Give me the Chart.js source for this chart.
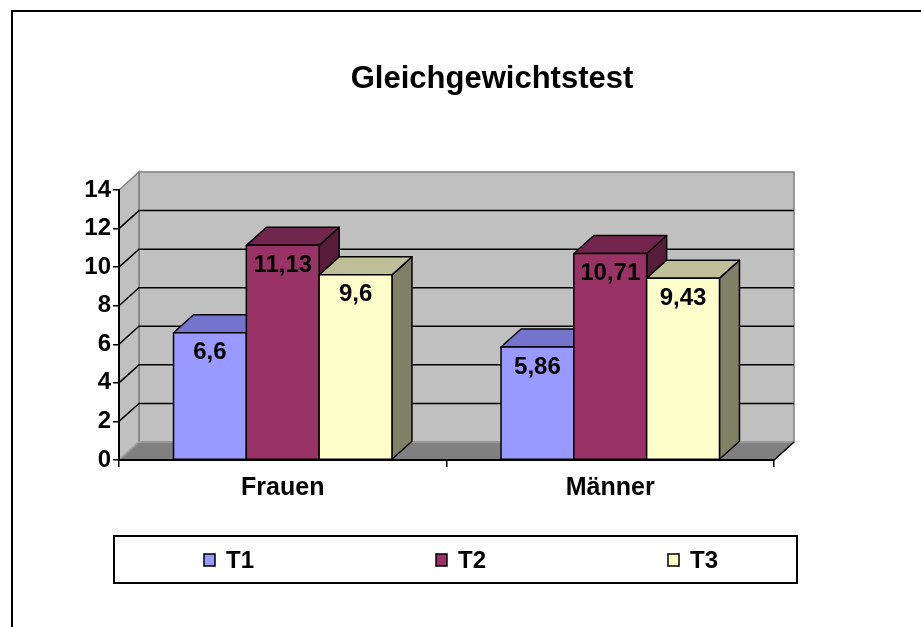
<!DOCTYPE html>
<html>
<head>
<meta charset="utf-8">
<script src="https://cdn.jsdelivr.net/npm/chart.js@4.4.1/dist/chart.umd.min.js"></script>
<style>
  body { margin: 0; background: #fff; }
  #wrap { width: 921px; height: 627px; }
</style>
</head>
<body>
<div id="wrap"><canvas id="chart" width="921" height="627"></canvas></div>
<script>
// chart data
var categories = ['Frauen', 'Männer'];
var seriesNames = ['T1', 'T2', 'T3'];
var t1Values = [6.6, 5.86];
var t2Values = [11.13, 10.71];
var t3Values = [9.6, 9.43];
var yTicks = [0, 2, 4, 6, 8, 10, 12, 14];
var chartTitle = 'Gleichgewichtstest';

// colours per series: front, top, side
var faceColors = [
    { front: '#9999ff', top: '#7474cc', side: '#5c5ca3' },
    { front: '#993366', top: '#73264d', side: '#561c3a' },
    { front: '#ffffcc', top: '#bfbf99', side: '#808066' }
];

var FONT = '"Liberation Sans", Arial, sans-serif';
var DX = 20, DY = -18; // 3d depth offset

function fmt(v) {
    return String(v).replace('.', ',');
}

// walls + floor, drawn before the scales
var wallsPlugin = {
    id: 'walls',
    beforeDraw: function(chart) {
        var ctx = chart.ctx;
        var area = chart.chartArea;
        var y = chart.scales.y;
        var l = area.left, r = area.right, t = area.top, b = area.bottom;

        ctx.save();
        // outer frame
        ctx.strokeStyle = '#000';
        ctx.lineWidth = 2;
        ctx.strokeRect(12, 11, 1000, 1000);

        // back wall
        ctx.fillStyle = '#c0c0c0';
        ctx.fillRect(l + DX, t + DY, r - l, b - t);
        ctx.strokeStyle = '#808080';
        ctx.lineWidth = 1.5;
        ctx.strokeRect(l + DX, t + DY, r - l, b - t);

        // left wall
        ctx.beginPath();
        ctx.moveTo(l, b);
        ctx.lineTo(l + DX, b + DY);
        ctx.lineTo(l + DX, t + DY);
        ctx.lineTo(l, t);
        ctx.closePath();
        ctx.fillStyle = '#c0c0c0';
        ctx.fill();
        ctx.strokeStyle = '#808080';
        ctx.stroke();

        // floor
        ctx.beginPath();
        ctx.moveTo(l, b);
        ctx.lineTo(r, b);
        ctx.lineTo(r + DX, b + DY);
        ctx.lineTo(l + DX, b + DY);
        ctx.closePath();
        ctx.fillStyle = '#808080';
        ctx.fill();
        ctx.strokeStyle = '#a0a0a0';
        ctx.stroke();
        ctx.beginPath();
        ctx.moveTo(r, b);
        ctx.lineTo(r + DX, b + DY);
        ctx.strokeStyle = '#000';
        ctx.stroke();

        // gridlines on back and left wall
        ctx.strokeStyle = '#000';
        ctx.lineWidth = 1.5;
        yTicks.forEach(function(v) {
            if (v === 0 || v === yTicks[yTicks.length - 1]) return;
            var py = y.getPixelForValue(v);
            ctx.beginPath();
            ctx.moveTo(l, py);
            ctx.lineTo(l + DX, py + DY);
            ctx.lineTo(r + DX, py + DY);
            ctx.stroke();
        });
        ctx.restore();
    }
};

// 3d bars, drawn over the plain bars in the right order
var barsPlugin = {
    id: 'bars3d',
    afterDatasetsDraw: function(chart) {
        var ctx = chart.ctx;
        ctx.save();
        ctx.lineWidth = 1.5;
        ctx.strokeStyle = '#000';
        ctx.lineJoin = 'round';
        for (var c = 0; c < categories.length; c++) {
            for (var d = 0; d < chart.data.datasets.length; d++) {
                var bar = chart.getDatasetMeta(d).data[c];
                var p = bar.getProps(['x', 'y', 'base', 'width'], true);
                var left = p.x - p.width / 2, right = p.x + p.width / 2;
                var col = faceColors[d];

                // side
                ctx.beginPath();
                ctx.moveTo(right, p.y);
                ctx.lineTo(right + DX, p.y + DY);
                ctx.lineTo(right + DX, p.base + DY);
                ctx.lineTo(right, p.base);
                ctx.closePath();
                ctx.fillStyle = col.side;
                ctx.fill();
                ctx.stroke();

                // top
                ctx.beginPath();
                ctx.moveTo(left, p.y);
                ctx.lineTo(right, p.y);
                ctx.lineTo(right + DX, p.y + DY);
                ctx.lineTo(left + DX, p.y + DY);
                ctx.closePath();
                ctx.fillStyle = col.top;
                ctx.fill();
                ctx.stroke();

                // front
                ctx.fillStyle = col.front;
                ctx.fillRect(left, p.y, p.width, p.base - p.y);
                ctx.strokeRect(left, p.y, p.width, p.base - p.y);
            }
        }

        // value labels
        ctx.fillStyle = '#000';
        ctx.font = 'bold 24px ' + FONT;
        ctx.textAlign = 'center';
        ctx.textBaseline = 'middle';
        chart.data.datasets.forEach(function(ds, d) {
            chart.getDatasetMeta(d).data.forEach(function(bar, i) {
                ctx.fillText(fmt(ds.data[i]), bar.x, bar.y + 20);
            });
        });
        ctx.restore();
    }
};

// title and framed legend
var textPlugin = {
    id: 'titleLegend',
    afterDraw: function(chart) {
        var ctx = chart.ctx;
        ctx.save();
        ctx.fillStyle = '#000';
        ctx.font = 'bold 31px ' + FONT;
        ctx.textAlign = 'center';
        ctx.textBaseline = 'alphabetic';
        ctx.fillText(chartTitle, 492, 88);

        // legend box
        ctx.strokeStyle = '#000';
        ctx.lineWidth = 2;
        ctx.strokeRect(114, 536, 683, 47);

        var itemX = [204, 436, 668];
        ctx.font = 'bold 24px ' + FONT;
        ctx.textAlign = 'left';
        seriesNames.forEach(function(name, i) {
            ctx.fillStyle = faceColors[i].front;
            ctx.fillRect(itemX[i], 554, 11, 12);
            ctx.lineWidth = 1.5;
            ctx.strokeRect(itemX[i], 554, 11, 12);
            ctx.fillStyle = '#000';
            ctx.fillText(name, itemX[i] + 22, 568);
        });
        ctx.restore();
    }
};

var ctx = document.getElementById('chart').getContext('2d');
var myChart = new Chart(ctx, {
    type: 'bar',
    data: {
        labels: categories,
        datasets: [
            { label: seriesNames[0], data: t1Values, backgroundColor: faceColors[0].front },
            { label: seriesNames[1], data: t2Values, backgroundColor: faceColors[1].front },
            { label: seriesNames[2], data: t3Values, backgroundColor: faceColors[2].front }
        ]
    },
    options: {
        responsive: false,
        animation: false,
        categoryPercentage: 0.667,
        barPercentage: 1,
        borderColor: '#000',
        borderWidth: 1.5,
        layout: {
            padding: { left: 73, right: 147, top: 190, bottom: 127 }
        },
        scales: {
            x: {
                afterFit: function(s) { s.height = 40; },
                grid: {
                    offset: true,
                    drawOnChartArea: false,
                    drawTicks: true,
                    tickLength: 7,
                    color: '#000',
                    lineWidth: 1.5
                },
                border: { display: true, color: '#000', width: 2 },
                ticks: {
                    color: '#000',
                    padding: 6,
                    font: { family: FONT, size: 25, weight: 'bold' }
                }
            },
            y: {
                min: 0,
                max: 14,
                afterFit: function(s) { s.width = 46; },
                afterBuildTicks: function(s) {
                    s.ticks = yTicks.map(function(v) { return { value: v }; });
                },
                grid: {
                    drawOnChartArea: false,
                    drawTicks: true,
                    tickLength: 6,
                    color: '#000',
                    lineWidth: 1.5
                },
                border: { display: true, color: '#000', width: 2 },
                ticks: {
                    color: '#000',
                    padding: 2,
                    font: { family: FONT, size: 24, weight: 'bold' }
                }
            }
        },
        plugins: {
            legend: { display: false },
            title: { display: false },
            tooltip: { enabled: false }
        }
    },
    plugins: [wallsPlugin, barsPlugin, textPlugin]
});
</script>
</body>
</html>
